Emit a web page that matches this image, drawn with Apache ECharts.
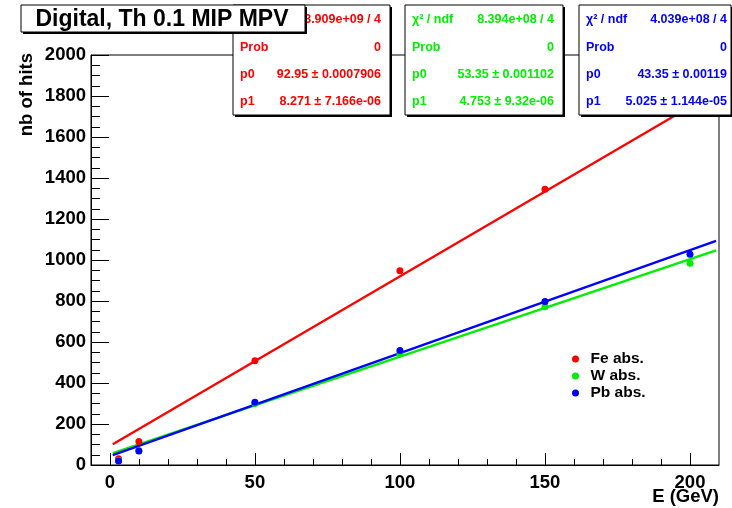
<!DOCTYPE html>
<html>
<head>
<meta charset="utf-8">
<script src="https://cdn.jsdelivr.net/npm/echarts@6/dist/echarts.min.js"></script>
<style>html,body{margin:0;padding:0;background:#fff}#c{width:732px;height:508px}</style>
</head>
<body>
<div id="c"></div>
<script>
// ---- data ----
const energies = [3, 10, 50, 100, 150, 200];
const feHits = [31, 115, 509, 948, 1345, 1750];
const wHits = [22, 70, 300, 545, 772, 984];
const pbHits = [20, 68, 306, 558, 797, 1028];
const seriesNames = ['Fe abs.', 'W abs.', 'Pb abs.'];
const fitP0 = [92.95, 53.35, 43.35];
const fitP1 = [8.271, 4.753, 5.025];
const fitRange = [1, 209];
const xMajorTicks = [0, 50, 100, 150, 200];
const xMinorTicks = [10, 20, 30, 40, 60, 70, 80, 90, 110, 120, 130, 140, 160, 170, 180, 190];
const statChi2 = ['3.909e+09 / 4', '8.394e+08 / 4', '4.039e+08 / 4'];
const statProb = ['0', '0', '0'];
const statP0 = ['92.95 \u00b1 0.0007906', '53.35 \u00b1 0.001102', '43.35 \u00b1 0.00119'];
const statP1 = ['8.271 \u00b1 7.166e-06', '4.753 \u00b1 9.32e-06', '5.025 \u00b1 1.144e-05'];
const titleText = 'Digital, Th 0.1 MIP MPV';

const colors = ['#ff0000', '#00ee00', '#0000ff'];
const FONT = '"Liberation Sans", Arial, sans-serif';
const allHits = [feHits, wHits, pbHits];

const chart = echarts.init(document.getElementById('c'), null, {renderer: 'canvas'});

const series = [];
// fit lines
for (let i = 0; i < 3; i++) {
  series.push({
    type: 'line', name: seriesNames[i] + ' fit', xAxisIndex: 0, yAxisIndex: 0,
    data: fitRange.map(x => [x, fitP0[i] + fitP1[i] * x]),
    showSymbol: false, symbol: 'none', silent: true,
    lineStyle: {color: colors[i], width: 2.3}, z: 3 + i
  });
}
// data points
for (let i = 0; i < 3; i++) {
  series.push({
    type: 'scatter', name: seriesNames[i], xAxisIndex: 0, yAxisIndex: 0,
    data: energies.map((e, k) => [e, allHits[i][k]]),
    symbol: 'circle', symbolSize: 7,
    itemStyle: {color: colors[i], opacity: 1}, z: 10 + i
  });
}

// stat boxes & title as graphics
const graphics = [];
const boxes = [
  {x1: 233, x2: 390, vx: 381},
  {x1: 405, x2: 563, vx: 554},
  {x1: 579, x2: 731, vx: 727}
];
const rowsY = [19.5, 47.5, 75, 102];
boxes.forEach((b, i) => {
  graphics.push({type: 'rect', shape: {x: b.x1 + 2, y: 7, width: b.x2 - b.x1, height: 110}, style: {fill: '#000'}, z: 100, silent: true});
  graphics.push({type: 'rect', shape: {x: b.x1, y: 5, width: b.x2 - b.x1, height: 110}, style: {fill: '#fff', stroke: '#000', lineWidth: 1}, z: 101, silent: true});
  const labels = ['\u03c7\u00b2 / ndf', 'Prob', 'p0', 'p1'];
  const vals = [statChi2[i], statProb[i], statP0[i], statP1[i]];
  for (let r = 0; r < 4; r++) {
    graphics.push({type: 'text', x: b.x1 + 7, y: rowsY[r], z: 102, silent: true,
      style: {text: labels[r], fill: colors[i], font: 'bold 12.5px ' + FONT, textAlign: 'left', textVerticalAlign: 'middle'}});
    graphics.push({type: 'text', x: b.vx, y: rowsY[r], z: 102, silent: true,
      style: {text: vals[r], fill: colors[i], font: 'bold 12.5px ' + FONT, textAlign: 'right', textVerticalAlign: 'middle'}});
  }
});
// title box
graphics.push({type: 'rect', shape: {x: 23, y: 7, width: 284, height: 27}, style: {fill: '#000'}, z: 110, silent: true});
graphics.push({type: 'rect', shape: {x: 21, y: 5, width: 284, height: 27}, style: {fill: '#fff', stroke: '#000', lineWidth: 1}, z: 111, silent: true});
graphics.push({type: 'text', x: 162, y: 19.5, z: 112, silent: true,
  style: {text: titleText, fill: '#000', font: 'bold 23px ' + FONT, textAlign: 'center', textVerticalAlign: 'middle'}});
// axis titles
graphics.push({type: 'text', x: 27, y: 53, rotation: Math.PI / 2, z: 50, silent: true,
  style: {text: 'nb of hits', fill: '#000', font: 'bold 18.5px ' + FONT, textAlign: 'right', textVerticalAlign: 'middle'}});
graphics.push({type: 'text', x: 719, y: 497, z: 50, silent: true,
  style: {text: 'E (GeV)', fill: '#000', font: 'bold 18.5px ' + FONT, textAlign: 'right', textVerticalAlign: 'middle'}});

const option = {
  backgroundColor: '#fff',
  animation: false,
  grid: {left: 91, right: 13, top: 55, bottom: 43, show: true, borderColor: '#000', borderWidth: 1, backgroundColor: 'transparent'},
  legend: {
    data: seriesNames, orient: 'vertical', left: 567, top: 346,
    icon: 'circle', itemWidth: 20, itemHeight: 7, itemGap: 1,
    itemStyle: {opacity: 1},
    textStyle: {color: '#000', fontFamily: FONT, fontWeight: 'bold', fontSize: 15.5, lineHeight: 16},
    selectedMode: false
  },
  xAxis: [
    {
      type: 'value', min: -6.5, max: 210,
      axisLine: {show: true, onZero: false, lineStyle: {color: '#000', width: 1}},
      axisTick: {show: true, inside: true, length: 12, customValues: xMajorTicks, lineStyle: {color: '#000'}},
      axisLabel: {show: true, customValues: xMajorTicks, margin: 8, color: '#000', fontFamily: FONT, fontWeight: 'bold', fontSize: 18.5},
      splitLine: {show: false}
    },
    {
      type: 'value', min: -6.5, max: 210, position: 'bottom',
      axisLine: {show: false, onZero: false},
      axisTick: {show: true, inside: true, length: 6, customValues: xMinorTicks, lineStyle: {color: '#000'}},
      axisLabel: {show: false},
      splitLine: {show: false}
    }
  ],
  yAxis: {
    type: 'value', min: 0, max: 2000, interval: 200,
    axisLine: {show: true, onZero: false, lineStyle: {color: '#000', width: 1}},
    axisTick: {show: true, inside: true, length: 18, lineStyle: {color: '#000'}},
    minorTick: {show: true, splitNumber: 4, length: 9, lineStyle: {color: '#000'}},
    axisLabel: {margin: 5, color: '#000', fontFamily: FONT, fontWeight: 'bold', fontSize: 18.5,
      formatter: v => String(v)},
    splitLine: {show: false}
  },
  series: series,
  graphic: graphics
};
chart.setOption(option);
</script>
</body>
</html>
